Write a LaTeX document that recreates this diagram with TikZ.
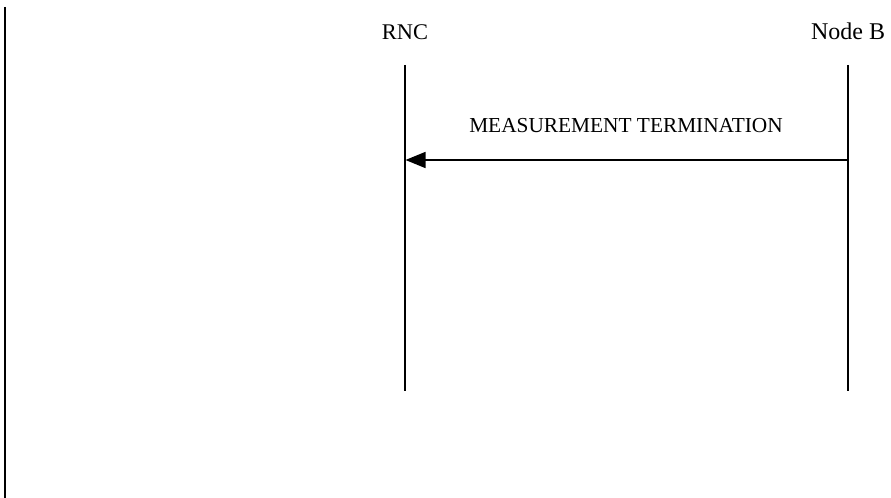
\documentclass[tikz,border=0pt]{standalone}
\usepackage{fontspec}
\setmainfont{Liberation Serif}
\usetikzlibrary{arrows.meta}
\begin{document}
\begin{tikzpicture}[x=0.75pt,y=-0.75pt,
  entity/.style={font=\fontsize{16.8pt}{18pt}\selectfont, anchor=base, inner sep=0pt},
  msglabel/.style={font=\fontsize{16pt}{18pt}\selectfont, anchor=base, inner sep=0pt},
  lifeline/.style={line width=1.1pt},
  msg/.style={line width=1.1pt, -{Triangle[length=15pt,width=12pt]}}]
  \useasboundingbox (0,0) rectangle (891,498);
  % left border rule
  \coordinate (bt) at (5,7);
  \coordinate (bb) at (5,498);
  \draw[line width=1.6pt] (bt) -- (bb);
  % entities
  \node[entity] (rnc) at (405,40) {RNC};
  \node[entity, font=\fontsize{18pt}{20pt}\selectfont] (nodeb) at (848,40) {Node B};
  % lifelines
  \coordinate (rncTop) at (405,65);
  \coordinate (rncBot) at (405,391);
  \coordinate (nbTop) at (848,65);
  \coordinate (nbBot) at (848,391);
  \draw[lifeline] (rncTop) -- (rncBot);
  \draw[lifeline] (nbTop) -- (nbBot);
  % message
  \coordinate (mFrom) at (848,160);
  \coordinate (mTo) at (405.5,160);
  \draw[msg] (mFrom) -- (mTo);
  \node[msglabel] (mlabel) at (626,132.7) {MEASUREMENT TERMINATION};
\end{tikzpicture}
\end{document}
